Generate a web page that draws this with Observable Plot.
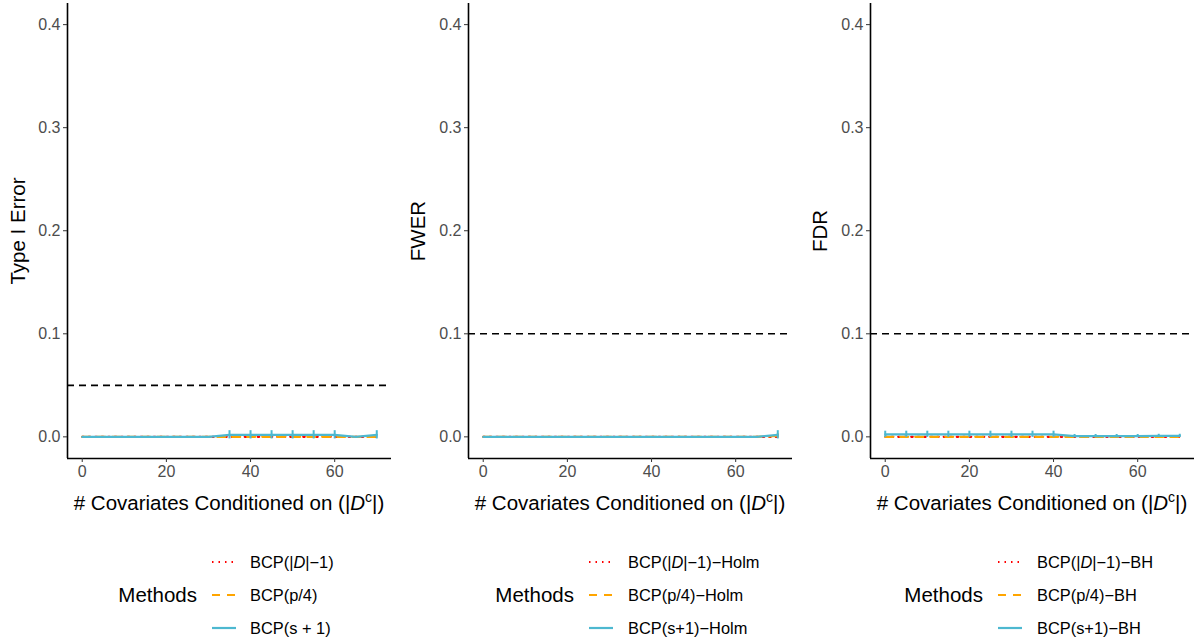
<!DOCTYPE html>
<html><head><meta charset="utf-8">
<script src="https://cdn.jsdelivr.net/npm/d3@7"></script>
<script src="https://cdn.jsdelivr.net/npm/@observablehq/plot@0.6"></script>
<style>
body{margin:0;background:#fff;font-family:"Liberation Sans",Arial,sans-serif}
#wrap{position:relative;width:1198px;height:641px;overflow:hidden;background:#fff}
.panel{position:absolute;top:0}
.panel svg{display:block}
.legend{position:absolute;top:520px}
g[aria-label="x-axis tick label"] text, g[aria-label="y-axis tick label"] text{fill:#4d4d4d}
</style></head><body><div id="wrap"></div>
<script>
// ---- data ----
const xValues = [0,5,10,15,20,25,30,35,40,45,50,55,60,65,70];
const methodKeys = ["dm1","p4","s1"];
const methodColors = ["#FF0000","#FFA500","#4DB8D0"];
const xTicks = [0,20,40,60];
const yTicks = [0,0.1,0.2,0.3,0.4];

const yLabels = ["Type I Error","FWER","FDR"];
const thresholds = [0.05,0.1,0.1];
const legendTitle = "Methods";
const legendLabels1 = ["BCP(|*D*|−1)","BCP(p/4)","BCP(s + 1)"];
const legendLabels2 = ["BCP(|*D*|−1)−Holm","BCP(p/4)−Holm","BCP(s+1)−Holm"];
const legendLabels3 = ["BCP(|*D*|−1)−BH","BCP(p/4)−BH","BCP(s+1)−BH"];
const xTitleParts = ["# Covariates Conditioned on (|","D","c","|)"];

// Panel 1: Type I error
const type1Red    = [0,0,0,0,0,0,0,0,0,0,0,0,0,0,0];
const type1Orange = [0,0,0,0,0,0,0,0,0,0,0,0,0,0,0];
const type1Cyan   = [0,0,0,0,0,0,0,0.002,0.002,0.002,0.002,0.002,0.002,0,0.002];
const type1RedErr    = [0,0,0,0,0,0,0,0,0,0,0,0,0,0,0];
const type1OrangeErr = [0,0,0,0,0,0,0,0,0,0,0,0,0,0,0];
const type1CyanErr   = [0,0,0,0,0,0,0,0.004,0.004,0.004,0.004,0.004,0.004,0,0.004];

// Panel 2: FWER
const fwerRed    = [0,0,0,0,0,0,0,0,0,0,0,0,0,0,0];
const fwerOrange = [0,0,0,0,0,0,0,0,0,0,0,0,0,0,0.001];
const fwerCyan   = [0,0,0,0,0,0,0,0,0,0,0,0,0,0,0.002];
const fwerRedErr    = [0,0,0,0,0,0,0,0,0,0,0,0,0,0,0];
const fwerOrangeErr = [0,0,0,0,0,0,0,0,0,0,0,0,0,0,0.002];
const fwerCyanErr   = [0,0,0,0,0,0,0,0,0,0,0,0,0,0,0.004];

// Panel 3: FDR
const fdrRed    = [0,0,0,0,0,0,0,0,0,0,0,0,0,0,0];
const fdrOrange = [0,0,0,0,0,0,0,0,0,0,0,0,0,0,0];
const fdrCyan   = [0.0025,0.0025,0.0025,0.0025,0.0025,0.0025,0.0025,0.0025,0.0025,0.0008,0.0008,0.0008,0.0008,0.001,0.001];
const fdrRedErr    = [0,0,0,0,0,0,0,0,0,0,0,0,0,0,0];
const fdrOrangeErr = [0,0,0,0,0,0,0,0,0,0,0,0,0,0,0];
const fdrCyanErr   = [0.003,0.003,0.003,0.003,0.003,0.003,0.003,0.003,0.003,0.0015,0.0015,0.0015,0.0015,0.0015,0.0015];

// ---- layout / style ----
const dashArrays = ["1.5,5","8,7",null];
const panels = [
  {left:0,   width:399, ml:67, mr:8, ydx:-49, values:[type1Red,type1Orange,type1Cyan], errs:[type1RedErr,type1OrangeErr,type1CyanErr], labels:legendLabels1, lg:{title:197, sw:212, lab:250}},
  {left:399, width:399, ml:69, mr:6, ydx:-50, values:[fwerRed,fwerOrange,fwerCyan], errs:[fwerRedErr,fwerOrangeErr,fwerCyanErr], labels:legendLabels2, lg:{title:175, sw:190, lab:229}},
  {left:798, width:400, ml:72, mr:4, ydx:-50, values:[fdrRed,fdrOrange,fdrCyan], errs:[fdrRedErr,fdrOrangeErr,fdrCyanErr], labels:legendLabels3, lg:{title:185, sw:200, lab:239}}
];
const xDomain = [-3.5, 73.5];
const yDomain = [-0.021, 0.4205];
const H = 520, MT = 3, MB = 62;
const TICK_FS = 16, TITLE_FS = 20.5, LEG_FS = 16.4;

function addRich(textSel, str){
  str.split("*").forEach((part,i)=>{
    if(!part) return;
    const t = textSel.append("tspan").text(part);
    if(i%2===1) t.attr("font-style","italic");
  });
}

const wrap = d3.select("#wrap");
panels.forEach((p, pi) => {
  const rows = [];
  methodKeys.forEach((m,k)=>xValues.forEach((x,j)=>rows.push({x, m, v:p.values[k][j], e:p.errs[k][j]})));
  const marks = [
    Plot.ruleY([thresholds[pi]], {stroke:"#000", strokeWidth:1.6, strokeDasharray:"7,5"})
  ];
  methodKeys.forEach((m,k)=>{
    const d = rows.filter(r=>r.m===m);
    marks.push(Plot.line(d, {x:"x", y:"v", stroke:"m", strokeWidth:2.2, strokeDasharray:dashArrays[k]}));
    marks.push(Plot.ruleX(d.filter(r=>r.e>0), {x:"x", y1:r=>r.v-r.e, y2:r=>r.v+r.e, stroke:"m", strokeWidth:2}));
  });
  marks.push(Plot.ruleX([xDomain[0]], {stroke:"#000", strokeWidth:1.6}));
  marks.push(Plot.ruleY([yDomain[0]], {stroke:"#000", strokeWidth:1.6}));
  marks.push(Plot.axisY({ticks:yTicks, tickFormat:d=>d.toFixed(1), tickSize:4, tickPadding:3, fontSize:TICK_FS, label:null, stroke:"#333"}));
  marks.push(Plot.axisX({ticks:xTicks, tickFormat:d=>String(d), tickSize:4, tickPadding:3, fontSize:TICK_FS, label:null, stroke:"#333"}));
  marks.push(Plot.text([yLabels[pi]], {frameAnchor:"left", textAnchor:"middle", lineAnchor:"middle", rotate:-90, dx:p.ydx, fontSize:TITLE_FS, fill:"#000"}));

  const chart = Plot.plot({
    width:p.width, height:H, marginLeft:p.ml, marginRight:p.mr, marginTop:MT, marginBottom:MB,
    style:{fontFamily:"'Liberation Sans', Arial, sans-serif", background:"#fff", overflow:"visible"},
    x:{domain:xDomain}, y:{domain:yDomain},
    color:{domain:methodKeys, range:methodColors},
    marks
  });
  const div = wrap.append("div").attr("class","panel").style("left", p.left+"px");
  div.node().appendChild(chart);

  // x axis title with italic/superscript
  const cx = p.ml + (p.width - p.ml - p.mr)/2;
  const t = d3.select(chart).append("text")
    .attr("x", cx).attr("y", 510).attr("text-anchor","middle")
    .attr("font-size",TITLE_FS).attr("fill","#000")
    .attr("font-family","'Liberation Sans', Arial, sans-serif");
  t.append("tspan").text(xTitleParts[0]);
  t.append("tspan").attr("font-style","italic").text(xTitleParts[1]);
  t.append("tspan").attr("font-size",14).attr("dy",-8).text(xTitleParts[2]);
  t.append("tspan").attr("dy",8).text(xTitleParts[3]);

  // legend
  const lg = wrap.append("svg").attr("class","legend")
    .style("left", p.left+"px").attr("width", p.width).attr("height", 121)
    .attr("font-family","'Liberation Sans', Arial, sans-serif");
  const rowsY = [42, 75, 108];
  lg.append("text").attr("x", p.lg.title).attr("y", rowsY[1]).attr("dy","0.35em")
    .attr("text-anchor","end").attr("font-size",TITLE_FS).text(legendTitle);
  methodKeys.forEach((m,k)=>{
    lg.append("line").attr("x1",p.lg.sw).attr("x2",p.lg.sw+24).attr("y1",rowsY[k]).attr("y2",rowsY[k])
      .attr("stroke",methodColors[k]).attr("stroke-width",2.2)
      .attr("stroke-dasharray",dashArrays[k]);
    const tt = lg.append("text").attr("x",p.lg.lab).attr("y",rowsY[k]).attr("dy","0.35em").attr("font-size",LEG_FS);
    addRich(tt, p.labels[k]);
  });
});
</script></body></html>
